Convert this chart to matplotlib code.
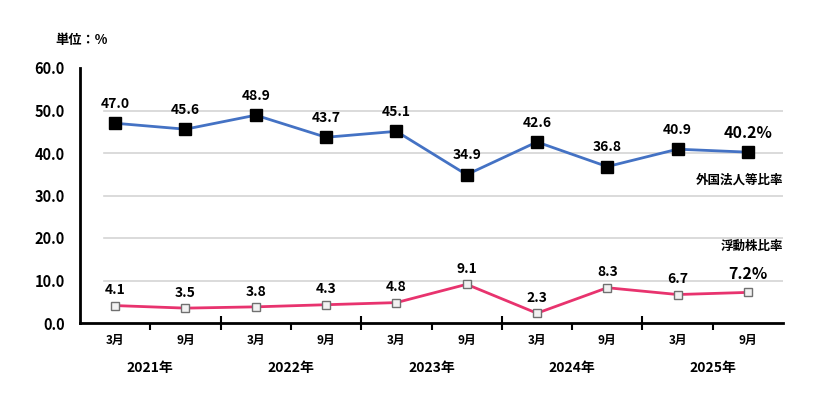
import matplotlib
matplotlib.use("Agg")
import matplotlib.pyplot as plt  # noqa: E402

plt.rcParams["font.family"] = ["Noto Sans CJK JP", "DejaVu Sans"]

months = ["3月", "9月", "3月", "9月", "3月", "9月", "3月", "9月", "3月", "9月"]
years = ["2021年", "2022年", "2023年", "2024年", "2025年"]
foreign = [47.0, 45.6, 48.9, 43.7, 45.1, 34.9, 42.6, 36.8, 40.9, 40.2]
floating = [4.1, 3.5, 3.8, 4.3, 4.8, 9.1, 2.3, 8.3, 6.7, 7.2]
yticks = [0, 10, 20, 30, 40, 50, 60]

BLUE = "#4472C4"
PINK = "#E8336E"

fig = plt.figure(figsize=(8.24, 4.09), dpi=100)
ax = fig.add_axes([80 / 824, 1 - 323 / 409, 703 / 824, 255 / 409])
x = list(range(len(months)))

for v in yticks[1:-1]:
    ax.axhline(v, xmin=24 / 703, xmax=1, color="#d4d4d4", lw=1.2, zorder=0)

ax.plot(x, foreign, color=BLUE, lw=2, marker="s", ms=8.5,
        mfc="black", mec="black", zorder=3)
ax.plot(x, floating, color=PINK, lw=2, marker="s", ms=6,
        mfc="#f2f2f2", mec="#707070", mew=1, zorder=3)

for i, v in enumerate(foreign):
    last = i == len(foreign) - 1
    ax.annotate(f"{v:.1f}%" if last else f"{v:.1f}", (i, v), xytext=(0, 14),
                textcoords="offset points", ha="center", va="center",
                fontsize=11.5 if last else 10, fontweight="bold")
for i, v in enumerate(floating):
    last = i == len(floating) - 1
    ax.annotate(f"{v:.1f}%" if last else f"{v:.1f}", (i, v), xytext=(0, 13 if last else 11),
                textcoords="offset points", ha="center", va="center",
                fontsize=11.5 if last else 10, fontweight="bold")

ax.text(9.5, 33.7, "外国法人等比率", ha="right", va="center", fontsize=9, fontweight="bold")
ax.text(9.5, 18.0, "浮動株比率", ha="right", va="center", fontsize=9, fontweight="bold")

ax.set_xlim(-0.5, 9.5)
ax.set_ylim(0, 60)
ax.set_yticks(yticks)
ax.set_yticklabels([f"{v:.1f}" for v in yticks], fontsize=10.5, fontweight="bold")
ax.tick_params(axis="y", length=0, pad=11)

ax.set_xticks([0.5, 2.5, 4.5, 6.5, 8.5], minor=True)
ax.set_xticks([1.5, 3.5, 5.5, 7.5])
ax.set_xticklabels([])
ax.tick_params(axis="x", which="minor", direction="out", length=5, width=1.5)
ax.tick_params(axis="x", which="major", direction="inout", length=10, width=1.5)

for i, m in enumerate(months):
    ax.text(i, -0.07, m, transform=ax.get_xaxis_transform(), ha="center", va="center",
            fontsize=8.5, fontweight="bold")
for j, yr in enumerate(years):
    ax.text(2 * j + 0.5, -0.175, yr, transform=ax.get_xaxis_transform(), ha="center",
            va="center", fontsize=10, fontweight="bold")

for side in ("top", "right"):
    ax.spines[side].set_visible(False)
for side in ("left", "bottom"):
    ax.spines[side].set_linewidth(2)
    ax.spines[side].set_color("black")

fig.text(55 / 824, 1 - 40 / 409, "単位：%", ha="left", va="center", fontsize=9.5,
         fontweight="bold")

fig.savefig("out.png", dpi=100)
